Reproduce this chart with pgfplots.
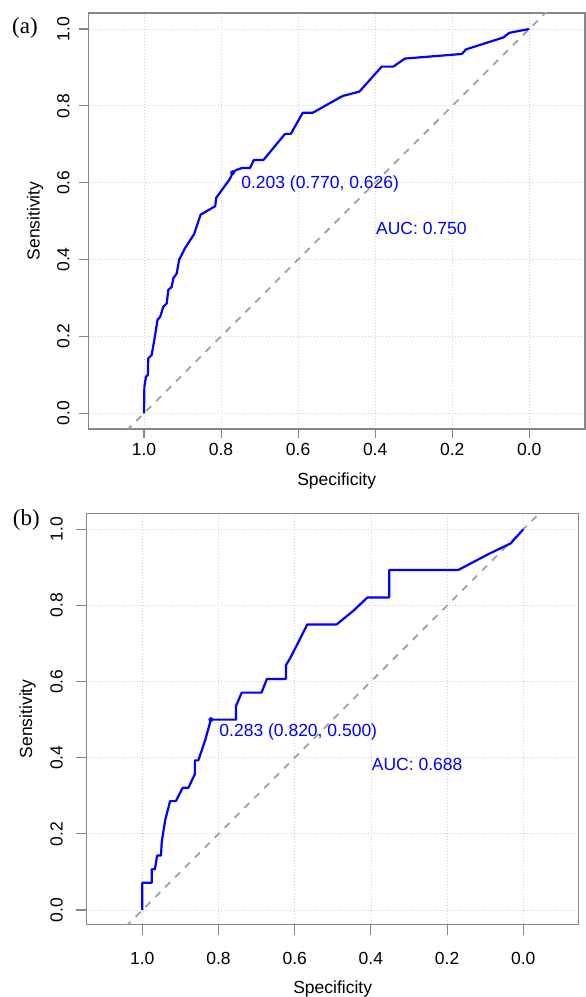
\documentclass[border=0pt]{standalone}
\usepackage{fontspec}
\setmainfont{Liberation Sans}
\newfontfamily\seriffont{Liberation Serif}
\usepackage{pgfplots}
\pgfplotsset{compat=1.18}
\definecolor{framegray}{RGB}{135,135,135}
\definecolor{gridgray}{RGB}{205,205,205}
\definecolor{diaggray}{RGB}{160,160,160}
\definecolor{rocblue}{RGB}{0,0,255}

\pgfplotsset{
  rocaxis/.style={
    scale only axis,
    x dir=reverse,
    xtick={0,0.2,0.4,0.6,0.8,1},
    xticklabels={0.0,0.2,0.4,0.6,0.8,1.0},
    ytick={0,0.2,0.4,0.6,0.8,1},
    yticklabels={0.0,0.2,0.4,0.6,0.8,1.0},
    xtick pos=bottom, ytick pos=left,
    tick align=outside,
    axis line style={framegray, line width=1.1pt},
    tick style={framegray, line width=1.1pt},
    grid=major,
    major grid style={gridgray, line width=0.8pt, dash pattern=on 1pt off 2pt},
    ticklabel style={font=\fontsize{17.5}{20}\selectfont, inner sep=0pt},
    label style={font=\fontsize{17.5}{20}\selectfont, inner sep=0pt},
    /pgf/number format/assume math mode=true,
    xlabel={Specificity},
    ylabel={Sensitivity},
    clip=true,
  },
  roccurve/.style={rocblue, line width=2.2pt, line join=round, no marks},
  diagline/.style={diaggray, line width=1.8pt, dash pattern=on 7pt off 7pt, no marks},
  thrpoint/.style={rocblue, only marks, mark=*, mark size=2.2pt},
}
\tikzset{roctext/.style={text=rocblue, font=\fontsize{17.5}{20}\selectfont, inner sep=0pt, anchor=base west}}

\begin{document}
\begin{tikzpicture}
\useasboundingbox (0pt,0pt) rectangle (586pt,997pt);

% ---------------- Panel (a) ----------------
\begin{axis}[rocaxis,
  at={(88.3pt,568pt)}, anchor=south west,
  width=496.7pt, height=416pt,
  xmin=-0.1446, xmax=1.1446,
  ymin=-0.0409, ymax=1.0416,
  major tick length=9.5pt,
  xticklabel style={anchor=center, yshift=-11pt},
  yticklabel style={anchor=center, xshift=-15.5pt, rotate=90},
  xlabel style={at={([yshift=-51.9pt]axis description cs:0.5,0)}, anchor=center},
  ylabel style={at={([xshift=-53.3pt]axis description cs:0,0.5)}, anchor=center},
]
\addplot[diagline] coordinates {(1.2,-0.2) (-0.2,1.2)};
\addplot[roccurve] coordinates {
(1.000,0.000) (0.999,0.069) (0.995,0.095) (0.990,0.100) (0.989,0.143)
(0.980,0.152) (0.977,0.169) (0.971,0.204) (0.965,0.243) (0.958,0.251)
(0.950,0.277) (0.941,0.286) (0.937,0.321) (0.928,0.329) (0.924,0.351)
(0.915,0.364) (0.909,0.399) (0.894,0.429) (0.870,0.466) (0.853,0.517)
(0.815,0.539) (0.813,0.560) (0.779,0.607) (0.775,0.614) (0.770,0.626)
(0.761,0.633) (0.746,0.638) (0.725,0.638) (0.715,0.659) (0.690,0.659)
(0.634,0.727) (0.619,0.727) (0.588,0.782) (0.562,0.782) (0.491,0.822)
(0.483,0.826) (0.441,0.837) (0.383,0.902) (0.353,0.902) (0.323,0.923)
(0.175,0.935) (0.164,0.947) (0.067,0.978) (0.052,0.990) (0.000,1.000)
};
\addplot[thrpoint] coordinates {(0.770,0.626)};
\node[roctext] at (axis cs:0.748,0.5837) {0.203 (0.770, 0.626)};
\node[roctext] at (axis cs:0.398,0.4658) {AUC: 0.750};
\end{axis}
\node[font=\seriffont\fontsize{23}{26}\selectfont, inner sep=0pt] at (25pt,969.5pt) {(a)};

% ---------------- Panel (b) ----------------
\begin{axis}[rocaxis,
  at={(86.7pt,72.7pt)}, anchor=south west,
  width=492pt, height=411pt,
  xmin=-0.1454, xmax=1.146,
  ymin=-0.0376, ymax=1.042,
  major tick length=11pt,
  xticklabel style={anchor=center, yshift=-23pt},
  yticklabel style={anchor=center, xshift=-19pt, rotate=90},
  xlabel style={at={([yshift=-64.5pt]axis description cs:0.5,0)}, anchor=center},
  ylabel style={at={([xshift=-59.2pt]axis description cs:0,0.5)}, anchor=center},
]
\addplot[diagline] coordinates {(1.2,-0.2) (-0.2,1.2)};
\addplot[roccurve] coordinates {
(1.000,0.000) (1.000,0.0714) (0.975,0.0714) (0.975,0.107) (0.967,0.107)
(0.961,0.143) (0.951,0.143) (0.949,0.179) (0.940,0.236) (0.927,0.286)
(0.912,0.286) (0.894,0.321) (0.879,0.321) (0.862,0.357) (0.862,0.393)
(0.853,0.393) (0.835,0.446) (0.820,0.500) (0.754,0.500) (0.754,0.536)
(0.739,0.571) (0.687,0.571) (0.673,0.607) (0.623,0.607) (0.623,0.643)
(0.612,0.661) (0.567,0.750) (0.490,0.750) (0.446,0.786) (0.409,0.821)
(0.352,0.821) (0.352,0.893) (0.171,0.893) (0.087,0.937) (0.033,0.963)
(0.000,1.000)
};
\addplot[thrpoint] coordinates {(0.820,0.500)};
\node[roctext] at (axis cs:0.798,0.4552) {0.283 (0.820, 0.500)};
\node[roctext] at (axis cs:0.398,0.3659) {AUC: 0.688};
\end{axis}
\node[font=\seriffont\fontsize{23}{26}\selectfont, inner sep=0pt] at (26.3pt,477pt) {(b)};
\end{tikzpicture}
\end{document}
